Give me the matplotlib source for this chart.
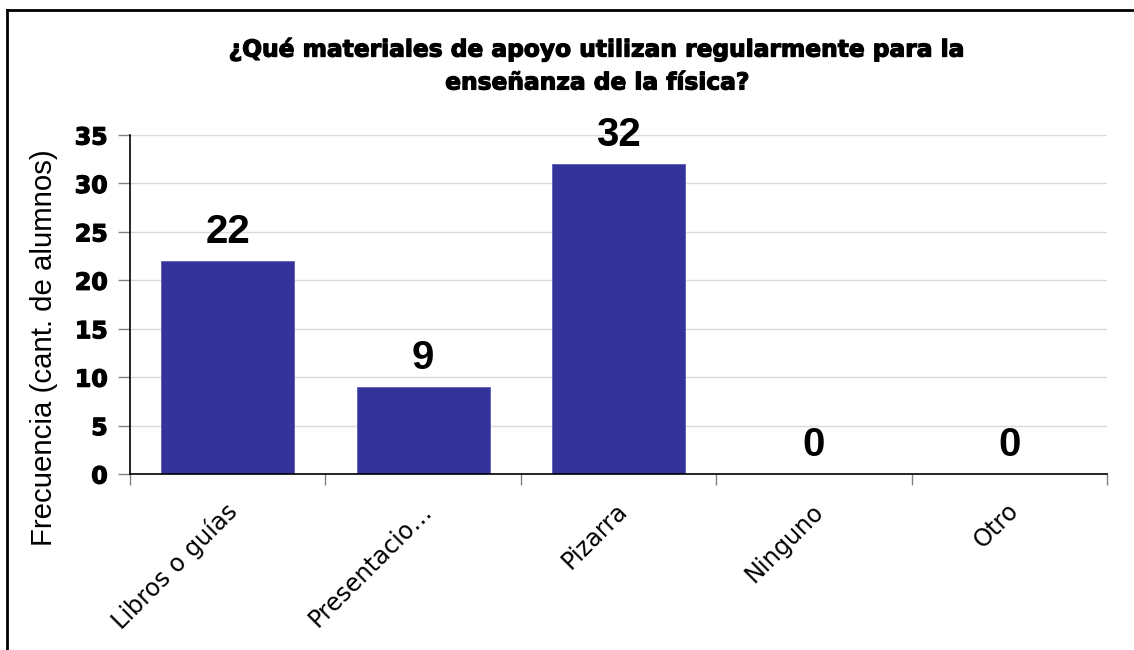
import matplotlib
matplotlib.use("Agg")
import matplotlib.pyplot as plt
from matplotlib.lines import Line2D
import matplotlib.patheffects as pe
import numpy as np

categories = ["Libros o guías", "Presentacio…", "Pizarra", "Ninguno", "Otro"]
values = [22, 9, 32, 0, 0]
yticks = [0, 5, 10, 15, 20, 25, 30, 35]
title = "¿Qué materiales de apoyo utilizan regularmente para la\nenseñanza de la física?"
ylabel = "Frecuencia (cant. de alumnos)"

W, H = 1134, 650
fig = plt.figure(figsize=(W / 100, H / 100), dpi=100)
fig.patch.set_facecolor("white")

heavy = [pe.withStroke(linewidth=0.9, foreground="black")]

ax = fig.add_axes([130 / W, 1 - 474 / H, (1107 - 130) / W, (474 - 135) / H])
x = np.arange(len(categories))
ax.bar(x, values, width=0.68, color="#333399", edgecolor="#5c5cb8", linewidth=0.6, zorder=3)

ax.set_xlim(-0.5, len(categories) - 0.5)
ax.set_ylim(0, 35)
ax.set_yticks(yticks)
ax.set_yticklabels([str(v) for v in yticks], fontfamily="DejaVu Sans",
                   fontweight="bold", fontsize=17)
for t in ax.get_yticklabels():
    t.set_path_effects(heavy)
ax.grid(axis="y", color="#d9d9d9", linewidth=1.0, zorder=0)
ax.set_axisbelow(True)

for s in ["top", "right"]:
    ax.spines[s].set_visible(False)
for s in ["left", "bottom"]:
    ax.spines[s].set_color("black")
    ax.spines[s].set_linewidth(1.2)
    ax.spines[s].set_zorder(4)

ax.tick_params(axis="y", direction="out", length=9, color="#808080", width=1, pad=7)

# x ticks at category boundaries
ax.set_xticks(np.arange(-0.5, len(categories), 1.0))
ax.set_xticklabels([])
ax.tick_params(axis="x", direction="out", length=8, color="#808080", width=1)
for xi, lab in zip(x, categories):
    ax.annotate(lab, xy=(xi, 0), xycoords=("data", "axes fraction"),
                xytext=(4, -24), textcoords="offset points",
                rotation=45, ha="right", va="center", rotation_mode="anchor",
                fontfamily="DejaVu Sans", fontsize=17.3)

for xi, v in zip(x, values):
    ax.annotate(str(v), xy=(xi, v), xytext=(0, 7), textcoords="offset points",
                ha="center", va="bottom", fontfamily="Liberation Sans",
                fontweight="bold", fontsize=29)

ax.set_ylabel(ylabel, fontfamily="Liberation Sans", fontsize=21.2)
ax.yaxis.set_label_coords(-72 / (1107 - 130), 0.5 - 43 / (474 - 135))

t = fig.text(598 / W, 1 - 66 / H, title, ha="center", va="center",
             fontfamily="DejaVu Sans", fontweight="heavy", fontsize=16.8,
             linespacing=1.55)
t.set_path_effects(heavy)

fig.add_artist(Line2D([7 / W, 1.0], [1 - 9.5 / H, 1 - 9.5 / H],
                      transform=fig.transFigure, color="black", linewidth=2))
fig.add_artist(Line2D([7 / W, 7 / W], [1 - 9.5 / H, 0.0],
                      transform=fig.transFigure, color="black", linewidth=2))

fig.savefig("out.png", dpi=100, facecolor="white")
